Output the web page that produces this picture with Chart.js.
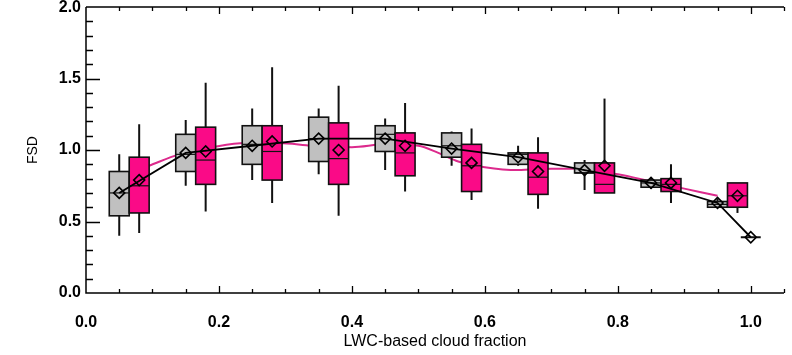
<!DOCTYPE html>
<html>
<head>
<meta charset="utf-8">
<script src="https://cdn.jsdelivr.net/npm/chart.js@4.4.1/dist/chart.umd.min.js"></script>
<style>
  html, body { margin: 0; padding: 0; background: #fff; }
  #wrap { width: 792px; height: 355px; }
</style>
</head>
<body>
<div id="wrap"><canvas id="c" width="792" height="355"></canvas></div>
<script>
// gray boxes (bin centres, plus the single point at 1.0)
const grayX      = [0.05, 0.15, 0.25, 0.35, 0.45, 0.55, 0.65, 0.75, 0.85, 0.95, 1.00];
const grayLow    = [0.40, 0.75, 0.79, 0.83, 0.86, 0.89, 0.89, 0.72, 0.73, 0.60, 0.39];
const grayQ1     = [0.54, 0.85, 0.90, 0.92, 0.99, 0.95, 0.90, 0.84, 0.74, 0.60, 0.39];
const grayMedian = [0.70, 0.97, 1.04, 1.08, 1.11, 1.03, 0.97, 0.84, 0.77, 0.62, 0.39];
const grayQ3     = [0.85, 1.11, 1.17, 1.23, 1.17, 1.12, 0.98, 0.91, 0.79, 0.64, 0.39];
const grayHigh   = [0.97, 1.21, 1.29, 1.29, 1.22, 1.13, 1.03, 0.93, 0.81, 0.66, 0.39];
const grayMean   = [0.70, 0.98, 1.03, 1.08, 1.08, 1.01, 0.95, 0.86, 0.77, 0.63, 0.39];

// magenta boxes
const pinkX      = [0.08, 0.18, 0.28, 0.38, 0.48, 0.58, 0.68, 0.78, 0.88, 0.98];
const pinkLow    = [0.42, 0.57, 0.63, 0.54, 0.71, 0.65, 0.59, 0.70, 0.63, 0.56];
const pinkQ1     = [0.56, 0.76, 0.79, 0.76, 0.82, 0.71, 0.69, 0.70, 0.71, 0.60];
const pinkMedian = [0.75, 0.93, 0.99, 0.94, 0.98, 0.89, 0.81, 0.76, 0.76, 0.68];
const pinkQ3     = [0.95, 1.16, 1.17, 1.19, 1.12, 1.04, 0.98, 0.91, 0.80, 0.77];
const pinkHigh   = [1.18, 1.47, 1.58, 1.45, 1.33, 1.15, 1.09, 1.36, 0.90, 0.77];
const pinkMean   = [0.79, 0.99, 1.06, 1.00, 1.03, 0.91, 0.85, 0.89, 0.77, 0.68];

// smooth magenta curve
const fitX = [0.095, 0.14, 0.19, 0.24, 0.29, 0.34, 0.40, 0.45, 0.50, 0.53, 0.56, 0.60, 0.65, 0.70, 0.74, 0.80, 0.85, 0.90, 0.95];
const fitY = [0.89, 0.97, 1.02, 1.05, 1.05, 1.03, 1.02, 1.04, 1.03, 0.98, 0.92, 0.88, 0.86, 0.87, 0.87, 0.83, 0.78, 0.73, 0.68];

const BOX_HALF = 0.015;
const GRAY = '#c0c0c0';
const PINK = '#fa0a87';
const FONT = "'Liberation Sans', Arial, Helvetica, sans-serif";

const toPts = (xs, ys) => xs.map((v, i) => ({ x: v, y: ys[i] }));

function drawBoxes(chart, xs, lo, q1, med, q3, hi, fill) {
    const ctx = chart.ctx;
    const sx = chart.scales.x, sy = chart.scales.y;
    xs.forEach((v, i) => {
        const l = sx.getPixelForValue(v - BOX_HALF);
        const r = sx.getPixelForValue(v + BOX_HALF);
        const cx = sx.getPixelForValue(v);
        const yLo = sy.getPixelForValue(lo[i]);
        const yQ1 = sy.getPixelForValue(q1[i]);
        const yMed = sy.getPixelForValue(med[i]);
        const yQ3 = sy.getPixelForValue(q3[i]);
        const yHi = sy.getPixelForValue(hi[i]);
        ctx.save();
        ctx.strokeStyle = '#111';
        ctx.lineWidth = 2;
        ctx.beginPath();
        ctx.moveTo(cx, yHi); ctx.lineTo(cx, yQ3);
        ctx.moveTo(cx, yQ1); ctx.lineTo(cx, yLo);
        ctx.stroke();
        if (yQ1 - yQ3 < 1) {
            ctx.beginPath();
            ctx.moveTo(l, yMed); ctx.lineTo(r, yMed);
            ctx.stroke();
        } else {
            ctx.fillStyle = fill;
            ctx.fillRect(l, yQ3, r - l, yQ1 - yQ3);
            ctx.lineWidth = 1.6;
            ctx.strokeRect(l, yQ3, r - l, yQ1 - yQ3);
            ctx.lineWidth = 1.2;
            ctx.beginPath();
            ctx.moveTo(l, yMed); ctx.lineTo(r, yMed);
            ctx.stroke();
        }
        ctx.restore();
    });
}

const boxPlugin = {
    id: 'boxes',
    beforeDatasetDraw(chart, args) {
        if (args.index === 1) {
            drawBoxes(chart, grayX, grayLow, grayQ1, grayMedian, grayQ3, grayHigh, GRAY);
            drawBoxes(chart, pinkX, pinkLow, pinkQ1, pinkMedian, pinkQ3, pinkHigh, PINK);
        }
    },
    afterDatasetsDraw(chart) {
        const { ctx, chartArea: a } = chart;
        const sx = chart.scales.x, sy = chart.scales.y;
        ctx.save();
        ctx.strokeStyle = '#000';
        ctx.lineWidth = 1.5;
        ctx.beginPath();
        ctx.moveTo(a.left, a.top); ctx.lineTo(a.right, a.top);
        ctx.moveTo(a.left, a.top); ctx.lineTo(a.left, a.bottom);
        ctx.lineTo(a.right, a.bottom);
        ctx.stroke();
        ctx.lineWidth = 1.3;
        ctx.beginPath();
        // x ticks every 0.05, inward on bottom and top
        for (let k = 1; k <= 21; k++) {
            const px = Math.round(sx.getPixelForValue(k * 0.05)) + 0.5;
            const len = k % 4 === 0 ? 7 : 4;
            ctx.moveTo(px, a.bottom); ctx.lineTo(px, a.bottom - len);
            ctx.moveTo(px, a.top); ctx.lineTo(px, a.top + len);
        }
        // y ticks every 0.1 on the left
        for (let k = 1; k < 20; k++) {
            const py = Math.round(sy.getPixelForValue(k * 0.1)) + 0.5;
            const len = k % 5 === 0 ? 14 : 7;
            ctx.moveTo(a.left, py); ctx.lineTo(a.left + len, py);
        }
        ctx.stroke();
        ctx.restore();
    }
};

new Chart(document.getElementById('c'), {
    type: 'line',
    data: {
        datasets: [
            {
                data: toPts(grayX, grayMean),
                borderColor: '#000',
                borderWidth: 1.8,
                pointStyle: 'rectRot',
                pointRadius: 5.5,
                pointBorderWidth: 1.6,
                pointBorderColor: '#000',
                pointBackgroundColor: 'rgba(0,0,0,0)',
                tension: 0
            },
            {
                data: toPts(pinkX, pinkMean),
                showLine: false,
                pointStyle: 'rectRot',
                pointRadius: 5.5,
                pointBorderWidth: 1.6,
                pointBorderColor: '#000',
                pointBackgroundColor: 'rgba(0,0,0,0)'
            },
            {
                data: toPts(fitX, fitY),
                borderColor: '#dc2a8c',
                borderWidth: 2,
                pointRadius: 0,
                cubicInterpolationMode: 'monotone'
            }
        ]
    },
    options: {
        responsive: false,
        animation: false,
        events: [],
        layout: { padding: { top: 5, right: 8, left: 0, bottom: 0 } },
        plugins: { legend: { display: false }, tooltip: { enabled: false } },
        scales: {
            x: {
                type: 'linear',
                min: 0,
                max: 1.05,
                grid: { display: false, drawTicks: false },
                border: { display: false },
                ticks: {
                    stepSize: 0.2,
                    includeBounds: false,
                    padding: 20,
                    maxRotation: 0,
                    color: '#000',
                    font: { family: FONT, size: 16, weight: 'bold' },
                    callback: v => v.toFixed(1)
                },
                title: {
                    display: true,
                    text: 'LWC-based cloud fraction',
                    color: '#000',
                    font: { family: FONT, size: 16 },
                    padding: { top: 0, bottom: 4 }
                },
                afterFit: s => { s.height = 62; }
            },
            y: {
                type: 'linear',
                min: 0,
                max: 2.0,
                grid: { display: false, drawTicks: false },
                border: { display: false },
                ticks: {
                    stepSize: 0.5,
                    includeBounds: false,
                    padding: 5,
                    color: '#000',
                    font: { family: FONT, size: 16, weight: 'bold', lineHeight: 0.01 },
                    callback: v => v.toFixed(1)
                },
                title: {
                    display: true,
                    text: 'FSD',
                    color: '#000',
                    font: { family: FONT, size: 14 },
                    padding: { top: 25, bottom: 0 }
                },
                afterFit: s => { s.width = 86; }
            }
        }
    },
    plugins: [boxPlugin]
});
</script>
</body>
</html>
